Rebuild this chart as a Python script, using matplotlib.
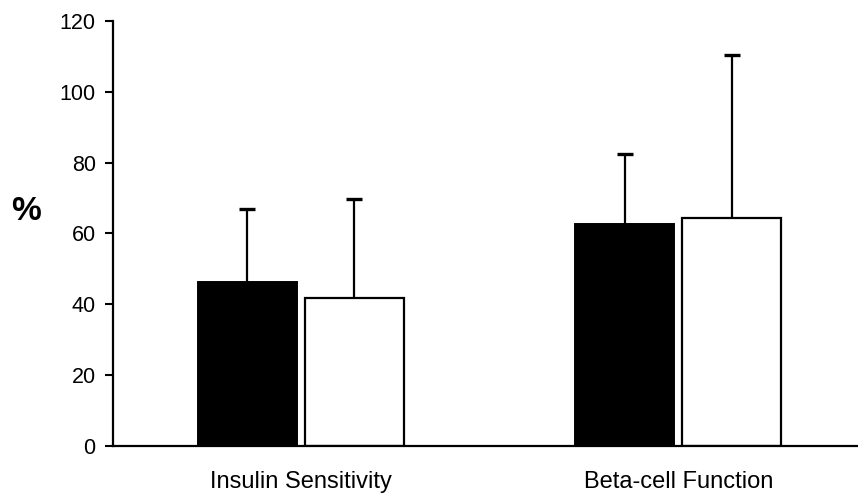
import matplotlib
matplotlib.use("Agg")
import matplotlib.pyplot as plt
import numpy as np

plt.rcParams["font.family"] = ["Liberation Sans", "DejaVu Sans"]

# Datos
categories = ["Insulin Sensitivity", "Beta-cell Function"]
black_means = [46.2, 62.7]
black_err = [20.7, 19.7]
white_means = [41.9, 64.3]
white_err = [27.9, 46.2]
yticks = [0, 20, 40, 60, 80, 100, 120]

fig = plt.figure(figsize=(8.58, 4.94), dpi=100)
ax = fig.add_axes([0.1317, 0.0972, 0.8683, 0.8603])

x = np.arange(1, len(categories) + 1)
w = 0.262
off = 0.1418


def upper_err(xs, means, errs):
    # solo la mitad superior de la barra de error, como en el original
    tops = np.array(means) + np.array(errs)
    ax.vlines(xs, means, tops, color="black", lw=1.6, zorder=3)
    ax.plot(xs, tops, ls="none", marker="_", ms=11, mew=2.4, color="black", zorder=3)


ax.bar(x - off, black_means, w, color="black", edgecolor="black", lw=1.4, zorder=2)
ax.bar(x + off, white_means, w, color="white", edgecolor="black", lw=1.6, zorder=2)
upper_err(x - off, black_means, black_err)
upper_err(x + off, white_means, white_err)

ax.set_xlim(0.502, 2.476)
ax.set_ylim(0, 120)
ax.set_yticks(yticks)
ax.set_xticks(x)
ax.set_xticklabels(categories, fontsize=17)
ax.tick_params(axis="x", length=0, pad=18)
ax.tick_params(axis="y", length=5.5, width=1.5, labelsize=15.5, pad=7)

for s in ("top", "right"):
    ax.spines[s].set_visible(False)
for s in ("left", "bottom"):
    ax.spines[s].set_linewidth(1.6)

fig.text(0.013, 0.572, "%", fontsize=24, fontweight="bold", ha="left", va="center")

fig.savefig("out.png", dpi=100, facecolor="white")
